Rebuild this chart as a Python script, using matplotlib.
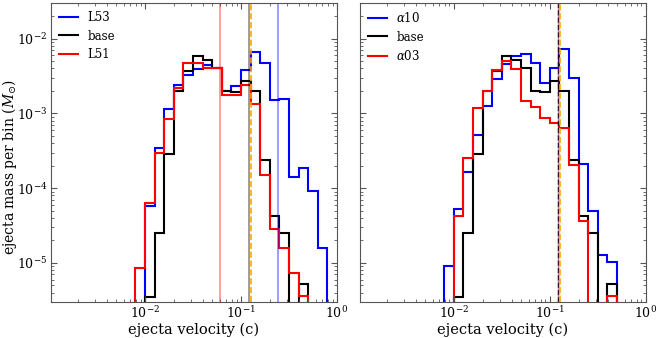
"""
Ejecta mass per velocity bin: L53/base/L51 and alpha10/base/alpha03
"""
import numpy as np
import matplotlib
matplotlib.use('Agg')
import matplotlib.pyplot as plt

plt.rcParams['font.family'] = 'DejaVu Serif'
plt.rcParams['mathtext.fontset'] = 'dejavuserif'
plt.rcParams['font.size'] = 10

# bin edges: 0.1 dex wide, from 10^-2.2 to 10^0
edges = np.logspace(-2.2, 0, 23)

# mass per bin (Msun), one value per bin
m_L53 = [0, 0, 5.7e-5, 3.4e-4, 1.13e-3, 2.39e-3, 3.26e-3, 3.88e-3, 4.44e-3, 4.0e-3, 1.97e-3,
         2.32e-3, 3.77e-3, 6.7e-3, 4.78e-3, 1.49e-3, 1.54e-3, 1.42e-4, 1.89e-4, 9.1e-5, 1.59e-5, 0]
m_base = [0, 0, 3.5e-6, 2.5e-5, 2.87e-4, 1.99e-3, 3.71e-3, 5.79e-3, 5.15e-3, 4.09e-3, 1.98e-3,
          1.92e-3, 2.70e-3, 2.01e-3, 2.36e-4, 4.18e-5, 2.5e-5, 0, 5.3e-6, 0, 0, 0]
m_L51 = [0, 8.6e-6, 6.4e-5, 2.98e-4, 8.5e-4, 2.21e-3, 4.78e-3, 4.78e-3, 4.09e-3, 4.0e-3, 1.79e-3,
         1.74e-3, 2.39e-3, 1.35e-3, 1.52e-4, 2.86e-5, 1.59e-5, 7.4e-6, 3.6e-6, 0, 0, 0]
m_a10 = [0, 9.2e-6, 5.2e-5, 1.66e-4, 5.1e-4, 1.25e-3, 2.85e-3, 4.53e-3, 5.85e-3, 6.3e-3, 4.78e-3,
         2.58e-3, 4.09e-3, 7.19e-3, 3.01e-3, 2.11e-4, 4.92e-5, 1.29e-5, 1.02e-5, 0, 0, 0]
m_a03 = [0, 0, 4.2e-5, 2.55e-4, 1.17e-3, 1.99e-3, 3.8e-3, 5.01e-3, 3.96e-3, 1.46e-3, 1.23e-3,
         8.6e-4, 7.5e-4, 6.3e-4, 2.05e-4, 3.61e-5, 0, 0, 3.6e-6, 0, 0, 0]

# mean ejecta velocities (c)
vmean_left = {'L53': 0.245, 'base': 0.121, 'L51': 0.0605}
vmean_right = {'a10': 0.122, 'base': 0.122, 'a03': 0.122}
v_ref = 0.126

fig = plt.figure(figsize=(6.64, 3.38), dpi=100)
ax1 = fig.add_axes([0.0768, 0.1065, 0.4307, 0.8846])
ax2 = fig.add_axes([0.542, 0.1065, 0.4307, 0.8846])

tiny = 1e-12


def draw(ax, series):
    for vals, color, label in series:
        vals = np.maximum(np.array(vals, dtype=float), tiny)
        ax.stairs(vals, edges, baseline=tiny, color=color, lw=1.5, label=label)


draw(ax1, [(m_L53, 'blue', 'L53'), (m_base, 'black', 'base'), (m_L51, 'red', 'L51')])
ax1.axvline(vmean_left['L53'], color='blue', alpha=0.45, lw=1.2)
ax1.axvline(vmean_left['base'], color='black', alpha=0.45, lw=1.2)
ax1.axvline(vmean_left['L51'], color='red', alpha=0.45, lw=1.2)
ax1.axvline(v_ref, color='orange', ls='--', lw=1.2)

draw(ax2, [(m_a10, 'blue', r'$\alpha$10'), (m_base, 'black', 'base'), (m_a03, 'red', r'$\alpha$03')])
ax2.axvline(vmean_right['a10'], color='blue', alpha=0.3, lw=1.0)
ax2.axvline(vmean_right['a03'], color='red', alpha=0.3, lw=1.0)
ax2.axvline(vmean_right['base'], color='black', ls='--', alpha=0.8, lw=1.0)
ax2.axvline(v_ref + 0.002, color='orange', ls='--', lw=1.2)

for ax in (ax1, ax2):
    ax.set_xscale('log')
    ax.set_yscale('log')
    ax.set_xlim(1.05e-3, 1)
    ax.set_ylim(3e-6, 3e-2)
    ax.set_xlabel('ejecta velocity (c)', fontsize=10.5, labelpad=1)
    ax.tick_params(which='both', direction='in', top=True, right=True, colors='#555555',
                   labelcolor='black', labelsize=9, pad=2.5)
    ax.tick_params(which='major', length=4)
    ax.tick_params(which='minor', length=2)
    for s in ax.spines.values():
        s.set_color('#555555')
    ax.legend(loc='upper left', frameon=False, handlelength=1.6, borderaxespad=0.3,
              fontsize=8.5, labelspacing=0.45)

ax1.set_ylabel(r'ejecta mass per bin ($M_{\odot}$)', fontsize=10)
ax1.yaxis.set_label_coords(-0.112, 0.45)
ax2.tick_params(labelleft=False)

plt.savefig('out.png', dpi=100)
